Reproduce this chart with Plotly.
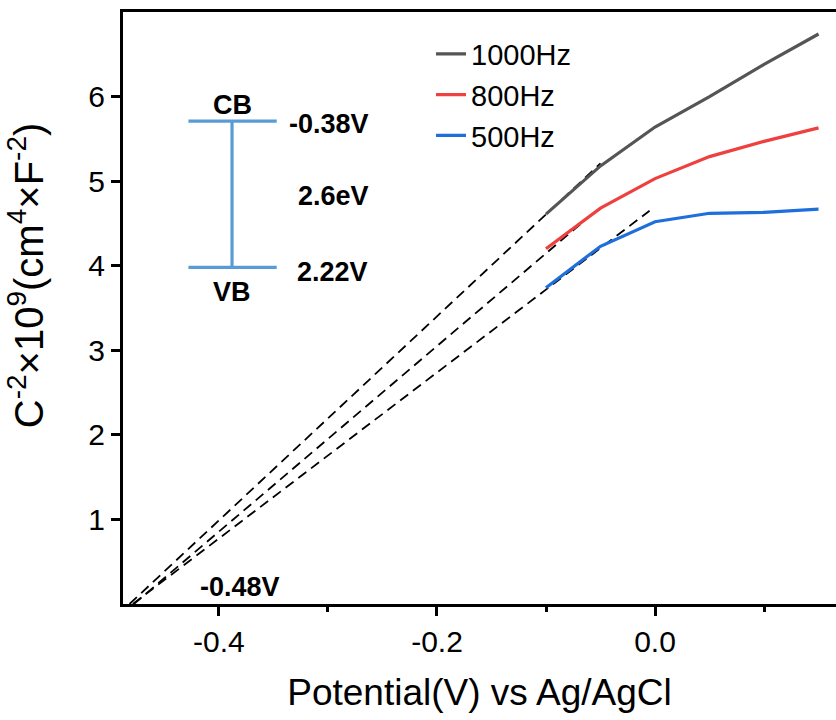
import plotly.graph_objects as go

potential = [-0.10, -0.05, 0.00, 0.05, 0.10, 0.15]
c2_1000 = [4.61, 5.18, 5.64, 6.00, 6.38, 6.74]
c2_800 = [4.20, 4.68, 5.03, 5.29, 5.47, 5.63]
c2_500 = [3.74, 4.23, 4.52, 4.62, 4.63, 4.67]

fit_x_1000 = [-0.482, -0.05]
fit_y_1000 = [0.0, 5.21]
fit_x_800 = [-0.478, -0.055]
fit_y_800 = [0.0, 4.64]
fit_x_500 = [-0.479, -0.005]
fit_y_500 = [0.0, 4.65]

band_x = [-0.428, -0.347]
band_center_x = -0.388
cb_level = 5.71
vb_level = 3.98

FONT = "Liberation Sans, Arial, sans-serif"
fig = go.Figure()

for fx, fy in [(fit_x_1000, fit_y_1000), (fit_x_800, fit_y_800), (fit_x_500, fit_y_500)]:
    fig.add_trace(go.Scatter(x=fx, y=fy, mode="lines", showlegend=False,
                             line=dict(color="black", width=1.8, dash="10px,6px"), hoverinfo="skip"))

for name, ys, col in [("1000Hz", c2_1000, "#555555"), ("800Hz", c2_800, "#ef4040"), ("500Hz", c2_500, "#1e6fdc")]:
    fig.add_trace(go.Scatter(x=potential, y=ys, mode="lines", name=name,
                             line=dict(color=col, width=3.2)))

bandcol = "#5b9bd5"
fig.add_trace(go.Scatter(x=band_x, y=[cb_level, cb_level], mode="lines", showlegend=False,
                         line=dict(color=bandcol, width=3.2), hoverinfo="skip"))
fig.add_trace(go.Scatter(x=band_x, y=[vb_level, vb_level], mode="lines", showlegend=False,
                         line=dict(color=bandcol, width=3.2), hoverinfo="skip"))
fig.add_trace(go.Scatter(x=[band_center_x, band_center_x], y=[cb_level, vb_level], mode="lines",
                         showlegend=False, line=dict(color=bandcol, width=3.2), hoverinfo="skip"))

ann_font = dict(family=FONT, size=27, color="black")
labels = [("<b>CB</b>", band_center_x, 5.90), ("<b>VB</b>", band_center_x, 3.69),
          ("<b>-0.38V</b>", -0.299, 5.68), ("<b>2.6eV</b>", -0.295, 4.82),
          ("<b>2.22V</b>", -0.296, 3.92), ("<b>-0.48V</b>", -0.381, 0.20)]
for t, x, y in labels:
    fig.add_annotation(x=x, y=y, text=t, showarrow=False, font=ann_font,
                       xanchor="center", yanchor="middle")

fig.add_annotation(xref="paper", yref="paper", x=-0.135, y=0.555, textangle=-90,
                   text="C<sup>-2</sup>×10<sup>9</sup>(cm<sup>4</sup>×F<sup>-2</sup>)",
                   showarrow=False, font=dict(family=FONT, size=40, color="black"),
                   xanchor="center", yanchor="middle")

fig.update_layout(
    width=836, height=720,
    margin=dict(l=123, r=0, t=12, b=116),
    plot_bgcolor="white", paper_bgcolor="white",
    font=dict(family=FONT, color="black"),
    legend=dict(x=0.432, y=0.972, xanchor="left", yanchor="top",
                font=dict(family=FONT, size=29), bgcolor="rgba(0,0,0,0)",
                tracegroupgap=0, itemwidth=30),
    xaxis=dict(range=[-0.488, 0.166], showgrid=False, zeroline=False,
               showline=True, linecolor="black", linewidth=3, mirror=True,
               ticks="outside", ticklen=9, tickwidth=3, tickcolor="black",
               tickvals=[-0.4, -0.2, 0.0], ticktext=["-0.4", "-0.2", "0.0"],
               tickfont=dict(family=FONT, size=30),
               minor=dict(tickvals=[-0.3, -0.1, 0.1], ticks="outside", ticklen=5,
                          tickwidth=3, tickcolor="black"),
               title=dict(text="Potential(V) vs Ag/AgCl", font=dict(family=FONT, size=37), standoff=23)),
    yaxis=dict(range=[0, 7], showgrid=False, zeroline=False,
               showline=True, linecolor="black", linewidth=3,
               ticks="outside", ticklen=9, tickwidth=3, tickcolor="black",
               tickvals=[1, 2, 3, 4, 5, 6], tickfont=dict(family=FONT, size=30)),
)

fig.write_html("out.html")
